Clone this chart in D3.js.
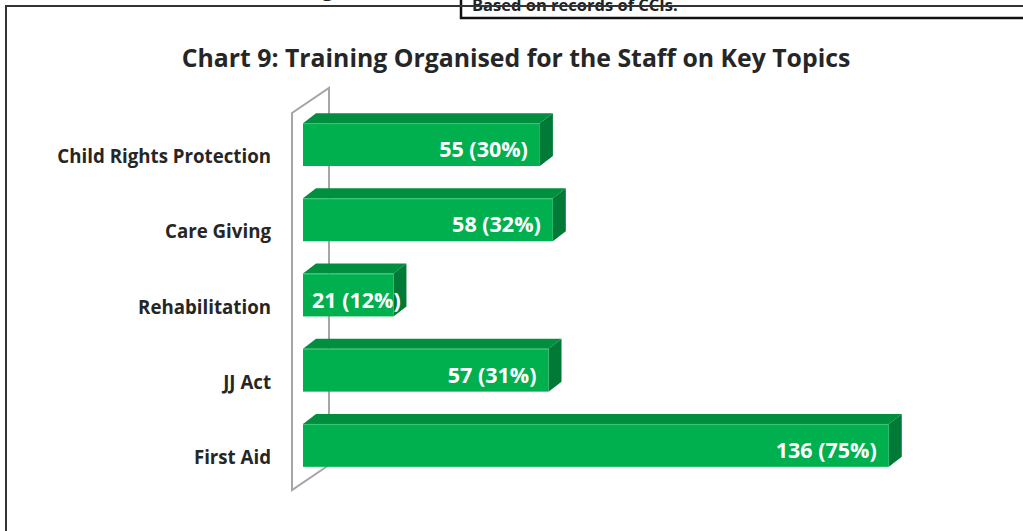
<!DOCTYPE html>
<html>
<head>
<meta charset="utf-8">
<script src="https://cdn.jsdelivr.net/npm/d3@7"></script>
<style>
  body { margin: 0; background: #fff; }
  svg { display: block; }
</style>
</head>
<body>
<svg width="1023" height="531"></svg>
<script>
const WIDTH = 1023
const HEIGHT = 531

const categories = ['Child Rights Protection', 'Care Giving', 'Rehabilitation', 'JJ Act', 'First Aid']
const counts = [55, 58, 21, 57, 136]
const percents = [30, 32, 12, 31, 75]

const svg = d3.select('svg')

// page frame bits around the chart
svg.append('text')
    .attr('x', 322).attr('y', -4)
    .attr('font-family', 'Open Sans').attr('font-weight', 700).attr('font-size', 20)
    .attr('fill', '#222')
    .text('g')

svg.append('rect')
    .attr('x', 461).attr('y', -10).attr('width', 600).attr('height', 28)
    .attr('fill', '#fff').attr('stroke', '#111').attr('stroke-width', 2.5)

svg.append('text')
    .attr('x', 472).attr('y', 11)
    .attr('font-family', 'Open Sans').attr('font-weight', 700).attr('font-size', 16.5)
    .attr('fill', '#222')
    .text('Based on records of CCIs.')

svg.append('line')
    .attr('x1', 5).attr('x2', WIDTH).attr('y1', 6).attr('y2', 6)
    .attr('stroke', '#333').attr('stroke-width', 2)
svg.append('line')
    .attr('x1', 6).attr('x2', 6).attr('y1', 6).attr('y2', HEIGHT)
    .attr('stroke', '#333').attr('stroke-width', 2)

// title
svg.append('text')
    .attr('x', 516).attr('y', 67)
    .attr('text-anchor', 'middle')
    .attr('font-family', 'Open Sans').attr('font-weight', 700).attr('font-size', 24.8)
    .attr('fill', '#262626')
    .text('Chart 9: Training Organised for the Staff on Key Topics')

const x = d3.scaleLinear().domain([0, 140]).range([303, 906])
const y = d3.scaleBand().domain(categories).range([107, 483]).paddingInner(0.43).paddingOuter(0.215)

const depthX = 13
const depthY = -10

// 3d wall outline
const wallFront = x(0) - 11
const wallBack = x(0) + 26
const wallTop = 113
const wallBottom = 490
const wall = svg.append('g')
    .attr('stroke', '#a6a6a6').attr('stroke-width', 2).attr('fill', 'none')
wall.append('path')
    .attr('d', `M${wallBack},${wallBottom - 25} L${wallBack},${wallTop - 25} L${wallFront},${wallTop} L${wallFront},${wallBottom} L${wallBack},${wallBottom - 25}`)

// category labels
svg.append('g')
    .selectAll('text')
    .data(categories)
    .enter().append('text')
    .attr('x', 271)
    .attr('y', d => y(d) + 40)
    .attr('text-anchor', 'end')
    .attr('font-family', 'Open Sans').attr('font-weight', 700).attr('font-size', 18.7)
    .attr('fill', '#262626')
    .text(d => d)

const data = categories.map((c, i) => ({ cat: c, v: counts[i], p: percents[i] }))

const bars = svg.append('g')
    .selectAll('g')
    .data(data)
    .enter().append('g')

// top face
bars.append('path')
    .attr('fill', '#008f3e')
    .attr('d', d => {
        const x0 = x(0), x1 = x(d.v), y0 = y(d.cat)
        return `M${x0},${y0} L${x0 + depthX},${y0 + depthY} L${x1 + depthX},${y0 + depthY} L${x1},${y0} Z`
    })

// side face
bars.append('path')
    .attr('fill', '#007a36')
    .attr('d', d => {
        const x1 = x(d.v), y0 = y(d.cat), h = y.bandwidth()
        return `M${x1},${y0} L${x1 + depthX},${y0 + depthY} L${x1 + depthX},${y0 + h + depthY} L${x1},${y0 + h} Z`
    })

// front face
bars.append('rect')
    .attr('x', x(0))
    .attr('y', d => y(d.cat))
    .attr('width', d => x(d.v) - x(0))
    .attr('height', y.bandwidth())
    .attr('fill', '#00b04f')

// light edge along the top
bars.append('line')
    .attr('x1', x(0)).attr('x2', d => x(d.v))
    .attr('y1', d => y(d.cat) + 0.5).attr('y2', d => y(d.cat) + 0.5)
    .attr('stroke', '#3cc57a').attr('stroke-width', 1)

const labels = bars.append('text')
    .attr('y', d => y(d.cat) + 34)
    .attr('text-anchor', 'end')
    .attr('font-family', 'Open Sans').attr('font-weight', 700).attr('font-size', 21.5)
    .attr('fill', '#fff')
    .text(d => `${d.v} (${d.p}%)`)

labels.attr('x', function(d) {
    const w = this.getComputedTextLength()
    return Math.max(x(d.v) - 12, x(0) + 9 + w)
})
</script>
</body>
</html>
